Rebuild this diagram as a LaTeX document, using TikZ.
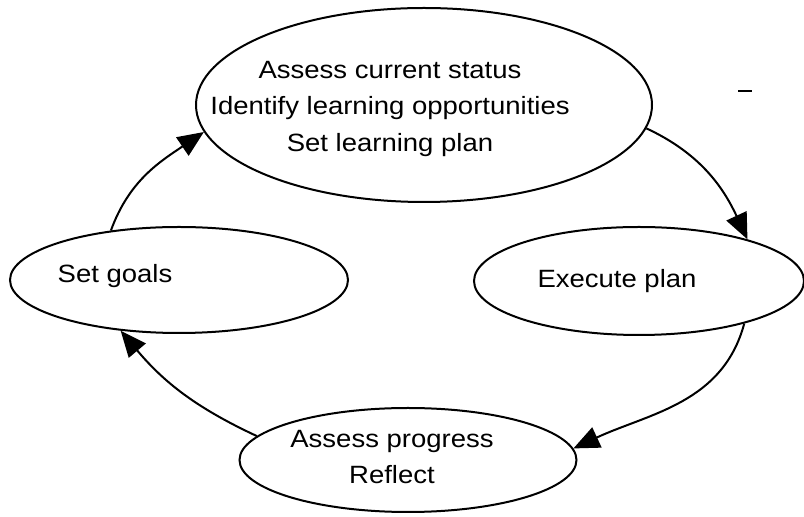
\documentclass[tikz,border=0pt]{standalone}
\usepackage{fontspec}
\setmainfont[FakeStretch=1.1]{Liberation Sans}
\usetikzlibrary{shapes.geometric,arrows.meta}

\begin{document}
\begin{tikzpicture}[x=0.5pt,y=0.5pt,
    stage/.style={draw=black, ellipse, line width=1pt, inner sep=0pt},
    stagetext/.style={align=center, font=\fontsize{12.5}{18.25}\selectfont, inner sep=0pt},
    flow/.style={draw=black, line width=1pt, -{Triangle[length=13pt,width=11pt]}}]
    \useasboundingbox (0,0) rectangle (804,-517);
    % ellipses of the four stages
    \node [stage, minimum width=228pt, minimum height=97pt] (assess) at (424,-105) {};
    \node [stage, minimum width=165pt, minimum height=54pt] (execute) at (639,-281) {};
    \node [stage, minimum width=168.5pt, minimum height=52pt] (progress) at (408,-460) {};
    \node [stage, minimum width=169pt, minimum height=53pt] (goals) at (179,-280) {};
    % their texts
    \node [stagetext] (assesstext) at (390,-109) {Assess current status\\Identify learning opportunities\\Set learning plan};
    \node [stagetext] (executetext) at (617,-281) {Execute plan};
    \node [stagetext] (progresstext) at (392,-457) {Assess progress\\Reflect};
    \node [stagetext] (goalstext) at (115,-276) {Set goals};
    % the cycle
    \draw [flow] (assess.-6) to [out=-25,in=115] (execute.21);
    \draw [flow] (execute.-22) to [out=-105,in=25] (progress.4.6);
    \draw [flow] (progress.171) to [out=155,in=-50] (goals.221);
    \draw [flow] (goals.144) to [out=70,in=-146] (assess.187);
    % small tick on the right
    \draw [black, line width=1pt] (738,-91) -- (752,-91);
\end{tikzpicture}
\end{document}
